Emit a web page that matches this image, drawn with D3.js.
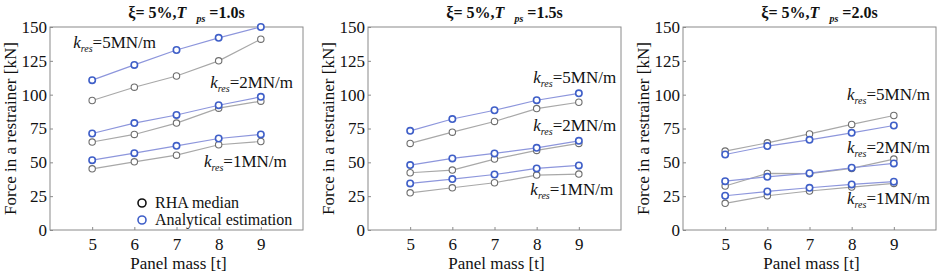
<!DOCTYPE html>
<html>
<head>
<meta charset="utf-8">
<script src="https://cdn.jsdelivr.net/npm/d3@7"></script>
<style>
  body { margin: 0; background: #fff; }
  svg { display: block; font-family: "Liberation Serif", "Times New Roman", serif; }
</style>
</head>
<body>
<svg id="drawing_region"></svg>
<script>
// Data
const panelMass = [5, 6, 7, 8, 9];
const yTicks = [0, 25, 50, 75, 100, 125, 150];
const periods = ["1.0", "1.5", "2.0"];
const kLabels = ["5", "2", "1"];

// rows: k_res = 5, 2, 1 MN/m
const rhaT10 = [
    [95.7, 105.5, 113.8, 125, 141],
    [65, 70.6, 79, 90, 95.2],
    [45.2, 50.4, 55.3, 63, 65.4]
];
const anaT10 = [
    [110.7, 122, 133, 142, 150],
    [71.3, 79, 85, 92.2, 98.4],
    [51.6, 56.8, 62.2, 67.6, 70.6]
];
const rhaT15 = [
    [64, 72.3, 80.2, 89.7, 94.4],
    [42.3, 44.3, 52.4, 58.8, 64],
    [27.5, 31.2, 34.9, 40.6, 41.3]
];
const anaT15 = [
    [73.3, 82, 88.5, 95.9, 101],
    [48, 52.9, 56.6, 60.7, 65.9],
    [34.4, 37.6, 41, 45.5, 47.7]
];
const rhaT20 = [
    [58.3, 64.4, 71, 78, 84.6],
    [32.5, 41.8, 41.6, 45.5, 52.4],
    [19.7, 25.3, 28.8, 31.7, 34.4]
];
const anaT20 = [
    [55.8, 62, 66.6, 71.8, 77.2],
    [36.1, 39.3, 42, 46, 49.2],
    [25.3, 28.5, 31.2, 33.7, 35.7]
];

// label anchors in data units [mass, force]
const labelPosT10 = [[4.55, 134.5], [7.8, 105], [7.65, 46.5]];
const labelPosT15 = [[7.92, 108.6], [7.92, 73.2], [7.85, 25.9]];
const labelPosT20 = [[7.89, 96], [7.89, 57], [7.89, 19.2]];

const rhaAll = [rhaT10, rhaT15, rhaT20];
const anaAll = [anaT10, anaT15, anaT20];
const labelAll = [labelPosT10, labelPosT15, labelPosT20];

const config = {
    width: 941,
    height: 273,
    lefts: [50, 368, 683],
    plotW: 253,
    top: 27,
    bottom: 230
};

const svg = d3.select('#drawing_region')
    .attr('width', config.width)
    .attr('height', config.height);

const grayLine = '#a8a8a8', grayMark = '#6e6e6e';
const blueLine = '#8d96dc', blueMark = '#3f5fc8';

periods.forEach((T, p) => {
    const left = config.lefts[p];
    const x = d3.scaleLinear().domain([4, 10]).range([left, left + config.plotW]);
    const y = d3.scaleLinear().domain([0, 150]).range([config.bottom, config.top]);
    const g = svg.append('g');

    // box
    g.append('rect')
        .attr('x', left).attr('y', config.top)
        .attr('width', config.plotW).attr('height', config.bottom - config.top)
        .attr('fill', 'none').attr('stroke', '#8a8a8a').attr('stroke-width', 1);

    // y axis
    const yAxis = d3.axisLeft(y).tickValues(yTicks).tickSizeInner(-3).tickSizeOuter(0).tickPadding(3);
    const ya = g.append('g').attr('transform', `translate(${left},0)`).call(yAxis);
    ya.select('.domain').remove();
    ya.selectAll('line').attr('stroke', '#8a8a8a');
    ya.selectAll('text').attr('font-size', '17px').attr('fill', '#111')
        .attr('font-family', '"Liberation Serif", serif');

    // x axis
    const xAxis = d3.axisBottom(x).tickValues(panelMass).tickFormat(d3.format('d'))
        .tickSizeInner(-3).tickSizeOuter(0).tickPadding(8);
    const xa = g.append('g').attr('transform', `translate(0,${config.bottom})`).call(xAxis);
    xa.select('.domain').remove();
    xa.selectAll('line').attr('stroke', '#8a8a8a');
    xa.selectAll('text').attr('font-size', '17px').attr('fill', '#111')
        .attr('font-family', '"Liberation Serif", serif');

    // axis titles
    g.append('text')
        .attr('x', (x.range()[0] + x.range()[1]) / 2 + 2)
        .attr('y', 269)
        .attr('text-anchor', 'middle')
        .attr('font-size', '17px')
        .attr('fill', '#111')
        .text('Panel mass [t]');

    g.append('text')
        .attr('transform', `translate(${left - 34},${(config.top + config.bottom) / 2}) rotate(-90)`)
        .attr('text-anchor', 'middle')
        .attr('font-size', '17px')
        .attr('fill', '#111')
        .text('Force in a restrainer [kN]');

    // title
    const title = g.append('text')
        .attr('x', (x.range()[0] + x.range()[1]) / 2 + 10)
        .attr('y', 18)
        .attr('text-anchor', 'middle')
        .attr('font-size', '16px')
        .attr('font-weight', 'bold')
        .attr('fill', '#111');
    title.append('tspan').text('ξ= 5%,');
    title.append('tspan').attr('font-style', 'italic').text('T');
    title.append('tspan').attr('font-style', 'italic').attr('font-size', '10px')
        .attr('dx', 10).attr('dy', 4).text('ps');
    title.append('tspan').attr('dy', -4).attr('dx', 4).text('=' + T + 's');

    const line = d3.line().x((d, i) => x(panelMass[i])).y(d => y(d));

    // series: RHA first, analytical on top
    const drawSeries = (rows, lc, mc, sw) => {
        rows.forEach(vals => {
            g.append('path').datum(vals)
                .attr('d', line)
                .attr('fill', 'none')
                .attr('stroke', lc)
                .attr('stroke-width', 1.2);
            g.selectAll(null).data(vals).enter().append('circle')
                .attr('cx', (d, i) => x(panelMass[i]))
                .attr('cy', d => y(d))
                .attr('r', 3.2)
                .attr('fill', '#fff')
                .attr('stroke', mc)
                .attr('stroke-width', sw);
        });
    };
    drawSeries(rhaAll[p], grayLine, grayMark, 1.1);
    drawSeries(anaAll[p], blueLine, blueMark, 1.6);

    // k_res labels
    labelAll[p].forEach((pos, k) => {
        const t = g.append('text')
            .attr('x', x(pos[0]))
            .attr('y', y(pos[1]))
            .attr('font-size', '17px')
            .attr('fill', '#111');
        t.append('tspan').attr('font-style', 'italic').text('k');
        t.append('tspan').attr('font-style', 'italic').attr('font-size', '10px').attr('dy', 4).text('res');
        t.append('tspan').attr('dy', -4).text('=' + kLabels[k] + 'MN/m');
    });

    // legend (first panel only)
    if (p === 0) {
        const leg = [['RHA median', '#111'], ['Analytical estimation', blueMark]];
        leg.forEach((d, i) => {
            const ly = 203 + i * 17;
            g.append('circle')
                .attr('cx', left + 92).attr('cy', ly)
                .attr('r', 4)
                .attr('fill', '#fff')
                .attr('stroke', d[1])
                .attr('stroke-width', 1.6);
            g.append('text')
                .attr('x', left + 105).attr('y', ly + 5)
                .attr('font-size', '16px')
                .attr('fill', '#111')
                .text(d[0]);
        });
    }
});
</script>
</body>
</html>
